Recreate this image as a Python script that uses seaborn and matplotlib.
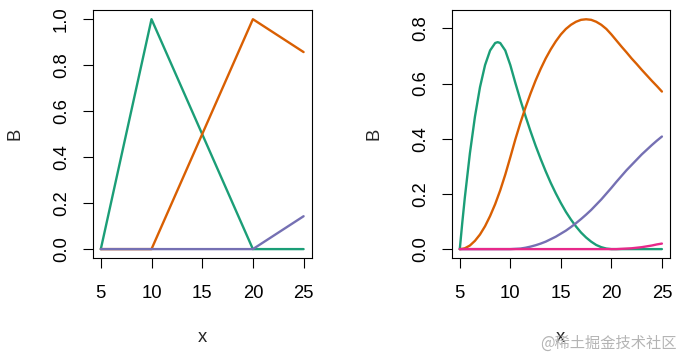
import numpy as np
import pandas as pd
import matplotlib
matplotlib.use("Agg")
import matplotlib.pyplot as plt
import seaborn as sns

# linear basis (left panel)
x1 = [5, 10, 15, 20, 25]
green1 = [0, 1.0, 0.5, 0, 0]
orange1 = [0, 0, 0.5, 1.0, 0.857]
purple1 = [0, 0, 0, 0, 0.143]

# quadratic basis (right panel)
x2 = [5, 5.25, 5.5, 6, 6.5, 7, 7.5, 8, 8.5, 8.75, 9, 9.5, 10, 10.5, 11, 11.5,
      12, 12.5, 13, 13.5, 14, 14.5, 15, 15.5, 16, 16.5, 17, 17.5, 18, 18.5,
      19, 19.5, 20, 20.5, 21, 21.5, 22, 22.5, 23, 23.5, 24, 24.5, 25]
green2 = [0, .097, .187, .347, .48, .587, .667, .72, .747, .75, .747, .72,
          .667, .602, .54, .482, .427, .375, .327, .282, .24, .202, .167,
          .135, .107, .082, .06, .042, .027, .015, .007, .002, 0] + [0] * 10
orange2 = [0, .001, .003, .013, .03, .053, .083, .12, .163, .188, .213, .27,
           .333, .398, .458, .513, .564, .611, .653, .691, .724, .753, .778,
           .798, .813, .824, .831, .833, .831, .824, .813, .798, .778,
           .756, .734, .713, .691, .671, .65, .63, .61, .591, .571]
purple2 = [0] * 13 + [.001, .002, .005, .009, .014, .02, .027, .036, .045,
                      .056, .067, .08, .094, .109, .125, .142, .161, .18,
                      .201, .222, .244, .265, .286, .305, .324, .343, .36,
                      .377, .393, .408]
pink2 = [0] * 33 + [0, .001, .002, .003, .005, .007, .01, .013, .017, .02]

colors = ["#1B9E77", "#D95F02", "#7570B3", "#E7298A"]

sns.set_theme(style="ticks")
plt.rcParams["font.family"] = ["Liberation Sans", "DejaVu Sans"]


def long_df(x, cols):
    frames = []
    for i, ys in enumerate(cols):
        frames.append(pd.DataFrame({"x": x, "B": ys, "basis": "b%d" % i}))
    return pd.concat(frames, ignore_index=True)


df1 = long_df(x1, [green1, orange1, purple1])
df2 = long_df(x2, [green2, orange2, purple2, pink2])

fig = plt.figure(figsize=(6.83, 3.54), dpi=100)
W, H = 683, 354
ax1 = fig.add_axes([92.7 / W, 1 - 258.3 / H, 219 / W, 248.3 / H])
ax2 = fig.add_axes([451.7 / W, 1 - 258.3 / H, 218.3 / W, 248.3 / H])


def style(ax, yticks, ylim):
    ax.set_xlim(4.2, 25.8)
    ax.set_ylim(*ylim)
    ax.set_xticks([5, 10, 15, 20, 25])
    ax.set_yticks(yticks)
    ax.set_yticklabels(["%.1f" % t for t in yticks])
    for s in ax.spines.values():
        s.set_visible(True)
        s.set_color("black")
        s.set_linewidth(0.8)
    ax.tick_params(axis="both", direction="out", length=7.5, width=0.8,
                   color="black", labelsize=13.3, labelcolor="black")
    ax.tick_params(axis="x", pad=12)
    ax.tick_params(axis="y", pad=9, labelrotation=90)
    for lbl in ax.get_yticklabels():
        lbl.set_va("center")
    ax.set_xlabel("x", fontsize=13.3)
    ax.set_ylabel("B", fontsize=13.3)
    ax.xaxis.label.set_va("center")
    ax.yaxis.label.set_va("center")
    ax.grid(False)


for ax, df, n in [(ax1, df1, 3), (ax2, df2, 4)]:
    sns.lineplot(data=df, x="x", y="B", hue="basis", palette=colors[:n],
                 estimator=None, sort=False, legend=False, linewidth=1.7, ax=ax)

style(ax1, [0, 0.2, 0.4, 0.6, 0.8, 1.0], (-0.04, 1.04))
style(ax2, [0, 0.2, 0.4, 0.6, 0.8], (-0.0333, 0.8666))

ax1.yaxis.set_label_coords((15 - 92.7) / 219, 0.5)
ax1.xaxis.set_label_coords(0.5, (258.3 - 338) / 248.3)
ax2.yaxis.set_label_coords((374 - 451.7) / 218.3, 0.5)
ax2.xaxis.set_label_coords(0.5, (258.3 - 338) / 248.3)

fig.text(677 / W, 1 - 343 / H, "@稀土掘金技术社区", ha="right", va="center",
         fontsize=11, color="#b4b4b4",
         family=["Noto Sans CJK SC", "DejaVu Sans"])

fig.savefig("out.png", dpi=100)
